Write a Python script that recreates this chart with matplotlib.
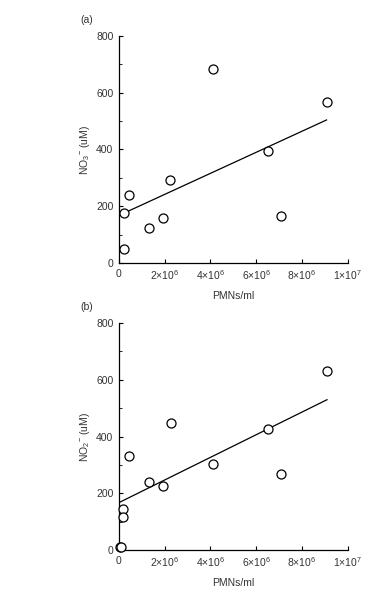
import numpy as np
import matplotlib
matplotlib.use("Agg")
import matplotlib.pyplot as plt
from matplotlib.ticker import FixedLocator

plt.rcParams['font.family'] = ['Liberation Sans', 'DejaVu Sans']
plt.rcParams['mathtext.fontset'] = 'custom'
plt.rcParams['mathtext.rm'] = 'Liberation Sans'
plt.rcParams['mathtext.it'] = 'Liberation Sans:italic'

# Panel (a): nitrate vs PMN count
pmn_a = [0.2e6, 0.2e6, 0.42e6, 1.31e6, 1.91e6, 2.23e6, 4.13e6, 6.5e6, 7.08e6, 9.07e6]
no3 = [50, 175, 241, 123, 160, 294, 683, 396, 166, 566]
fit_a_x = [0.2e6, 9.07e6]
fit_a = (37.1e-6, 167.6)   # slope per cell/ml, intercept

# Panel (b): nitrite vs PMN count
pmn_b = [0.04e6, 0.1e6, 0.18e6, 0.18e6, 0.44e6, 1.31e6, 1.91e6, 2.26e6, 4.13e6, 6.51e6, 7.09e6, 9.09e6]
no2 = [10, 11, 143, 116, 333, 241, 227, 449, 302, 427, 267, 630]
fit_b_x = [0.0, 9.09e6]
fit_b = (39.9e-6, 167.0)

x_ticks = [0, 2e6, 4e6, 6e6, 8e6, 1e7]
x_ticklabels = ['0', r'2$\times$10$^6$', r'4$\times$10$^6$', r'6$\times$10$^6$',
                r'8$\times$10$^6$', r'1$\times$10$^7$']
y_ticks = [0, 200, 400, 600, 800]
y_minor = [100, 300, 500, 700]

panels = [
    ('(a)', pmn_a, no3, fit_a_x, fit_a, r'NO$_3$$^{-}$ (uM)', 0.5535),
    ('(b)', pmn_b, no2, fit_b_x, fit_b, r'NO$_2$$^{-}$ (uM)', 0.0662),
]

fig = plt.figure(figsize=(3.74, 5.89), dpi=100)
txt = '#333333'
fs = 7.5
for tag, xs, ys, fx, (k, b), ylab, bottom in panels:
    ax = fig.add_axes([0.318, bottom, 0.612, 0.3854])
    ax.plot(xs, ys, 'o', mfc='white', mec='black', mew=0.9, ms=6.5, zorder=3,
            clip_on=False)
    fx = np.array(fx)
    ax.plot(fx, k * fx + b, color='black', lw=0.9, zorder=2)
    ax.set_xlim(0, 1e7)
    ax.set_ylim(0, 800)
    ax.spines['top'].set_visible(False)
    ax.spines['right'].set_visible(False)
    for s in ('left', 'bottom'):
        ax.spines[s].set_linewidth(0.9)
    ax.set_xticks(x_ticks)
    ax.set_xticklabels(x_ticklabels)
    ax.set_yticks(y_ticks)
    ax.yaxis.set_minor_locator(FixedLocator(y_minor))
    ax.tick_params(axis='both', which='major', direction='in', length=3, width=0.8,
                   labelsize=fs, labelcolor=txt, pad=4)
    ax.tick_params(axis='y', which='minor', direction='in', length=2, width=0.6)
    ax.set_xlabel('PMNs/ml', fontsize=fs, color=txt, labelpad=6)
    ax.set_ylabel(ylab, fontsize=fs, color=txt, labelpad=3)
    ax.text(-0.17, 1.07, tag, transform=ax.transAxes, fontsize=fs, color=txt,
            ha='left', va='center')

fig.savefig('out.png', dpi=100)
